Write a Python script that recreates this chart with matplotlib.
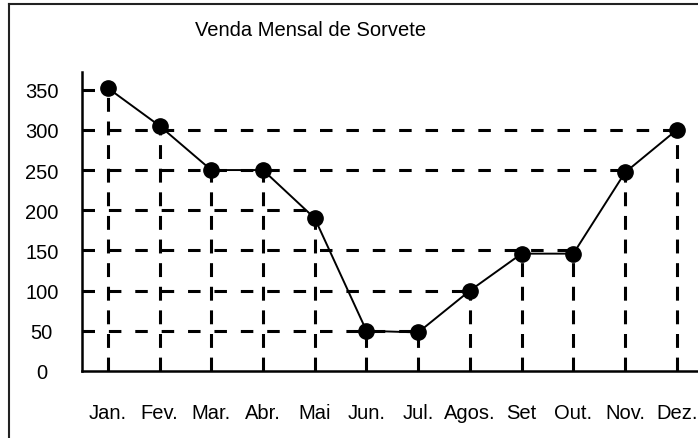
import numpy as np
import matplotlib
matplotlib.use("Agg")
import matplotlib.pyplot as plt
from matplotlib.lines import Line2D

# Data
meses = ['Jan.', 'Fev.', 'Mar.', 'Abr.', 'Mai', 'Jun.', 'Jul.', 'Agos.', 'Set', 'Out.', 'Nov.', 'Dez.']
vendas = [352, 305, 250, 250, 190, 50, 48, 100, 146, 146, 247, 300]
niveis = [50, 100, 150, 200, 250, 300, 350]
titulo = "Venda Mensal de Sorvete"

plt.rcParams['font.family'] = ['Liberation Sans', 'DejaVu Sans']
plt.rcParams['lines.scale_dashes'] = False

W, H = 698, 439
fig = plt.figure(figsize=(W / 100, H / 100), dpi=100)
ax = fig.add_axes([82 / W, 67 / H, 616 / W, 299 / H])

x = np.arange(len(meses))
ax.set_xlim(-0.5, 11.41)
ax.set_ylim(0, 372)

# vertical drop lines from each point down to zero
ax.vlines(x, 0, vendas, colors='black', linestyles=[(0, (10, 7))], lw=2.2, zorder=2)

# horizontal lines from the axis out to the last point near each level
for nivel in niveis:
    perto = [i for i, v in enumerate(vendas) if abs(v - nivel) <= 10]
    if perto:
        ax.hlines(nivel, -0.5, x[max(perto)], colors='black',
                  linestyles=[(0, (9, 10))], lw=2.2, zorder=2)

ax.plot(x, vendas, color='black', lw=1.4, marker='o', ms=11, zorder=3)

for s in ['top', 'right']:
    ax.spines[s].set_visible(False)
for s in ['left', 'bottom']:
    ax.spines[s].set_linewidth(1.8)

ax.set_yticks([0] + niveis)
ax.tick_params(axis='y', length=0, pad=29, labelsize=14.5)
for lbl in ax.get_yticklabels():
    lbl.set_ha('center')
ax.set_xticks(x, meses)
ax.tick_params(axis='x', length=0, pad=23, labelsize=14.5)

fig.text(311 / W, 1 - 31 / H, titulo, ha='center', va='center', fontsize=14.5)

# page border (top and left)
fig.add_artist(Line2D([9 / W, 1], [1 - 5 / H, 1 - 5 / H], color='#222222', lw=1.5))
fig.add_artist(Line2D([9 / W, 9 / W], [0, 1 - 5 / H], color='#222222', lw=1.5))

fig.savefig('out.png', dpi=100)
